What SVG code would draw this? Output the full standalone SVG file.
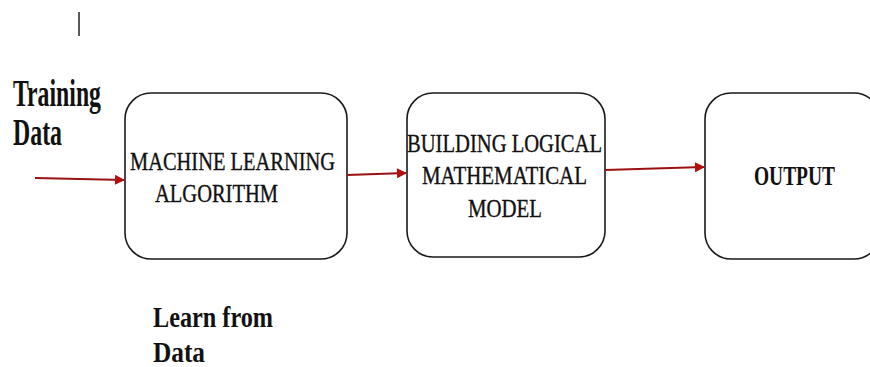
<svg xmlns="http://www.w3.org/2000/svg" width="870" height="367" viewBox="0 0 870 367">
<style>
.box{fill:#fff;stroke:#1a1a1a;stroke-width:1.6}
.t{font-family:"Liberation Serif","Times New Roman",serif;fill:#111}
.m{stroke:#111;stroke-width:0.35}
.b{font-weight:bold}
.arr{stroke:#9b1010;stroke-width:2;fill:none;marker-end:url(#ah)}
</style>
<defs>
<marker id="ah" viewBox="0 0 10 10" refX="9" refY="5" markerWidth="6" markerHeight="5" orient="auto" markerUnits="strokeWidth">
<path d="M0,0 L10,5 L0,10 z" fill="#b01010"/>
</marker>
</defs>
<rect width="870" height="367" fill="#fff"/>
<line x1="79" y1="12" x2="79" y2="36" stroke="#222" stroke-width="1.5"/>
<g id="label-training">
<text class="t b" x="13" y="106" font-size="37" textLength="88" lengthAdjust="spacingAndGlyphs">Training</text>
<text class="t b" x="13" y="145" font-size="37" textLength="49" lengthAdjust="spacingAndGlyphs">Data</text>
</g>
<g id="node-ml">
<rect class="box" x="125" y="93" width="222" height="166" rx="26"/>
<text class="t m" x="130" y="170" font-size="25" textLength="205" lengthAdjust="spacingAndGlyphs">MACHINE LEARNING</text>
<text class="t m" x="155" y="202" font-size="25" textLength="123" lengthAdjust="spacingAndGlyphs">ALGORITHM</text>
</g>
<g id="node-model">
<rect class="box" x="407" y="93" width="198" height="164" rx="26"/>
<text class="t m" x="407" y="152" font-size="26" textLength="195" lengthAdjust="spacingAndGlyphs">BUILDING LOGICAL</text>
<text class="t m" x="422" y="184" font-size="26" textLength="165" lengthAdjust="spacingAndGlyphs">MATHEMATICAL</text>
<text class="t m" x="468" y="217" font-size="26" textLength="74" lengthAdjust="spacingAndGlyphs">MODEL</text>
</g>
<g id="node-output">
<rect class="box" x="705" y="93" width="175" height="166" rx="26"/>
<text class="t b" x="754" y="185" font-size="27" textLength="81" lengthAdjust="spacingAndGlyphs">OUTPUT</text>
</g>
<g id="label-learn">
<text class="t b" x="153" y="327" font-size="30" textLength="120" lengthAdjust="spacingAndGlyphs">Learn from</text>
<text class="t b" x="153" y="362" font-size="30" textLength="52" lengthAdjust="spacingAndGlyphs">Data</text>
</g>
<g id="connectors">
<line class="arr" x1="35" y1="178" x2="124" y2="180"/>
<line class="arr" x1="347" y1="175" x2="406" y2="173"/>
<line class="arr" x1="605" y1="170" x2="704" y2="167"/>
</g>
</svg>
